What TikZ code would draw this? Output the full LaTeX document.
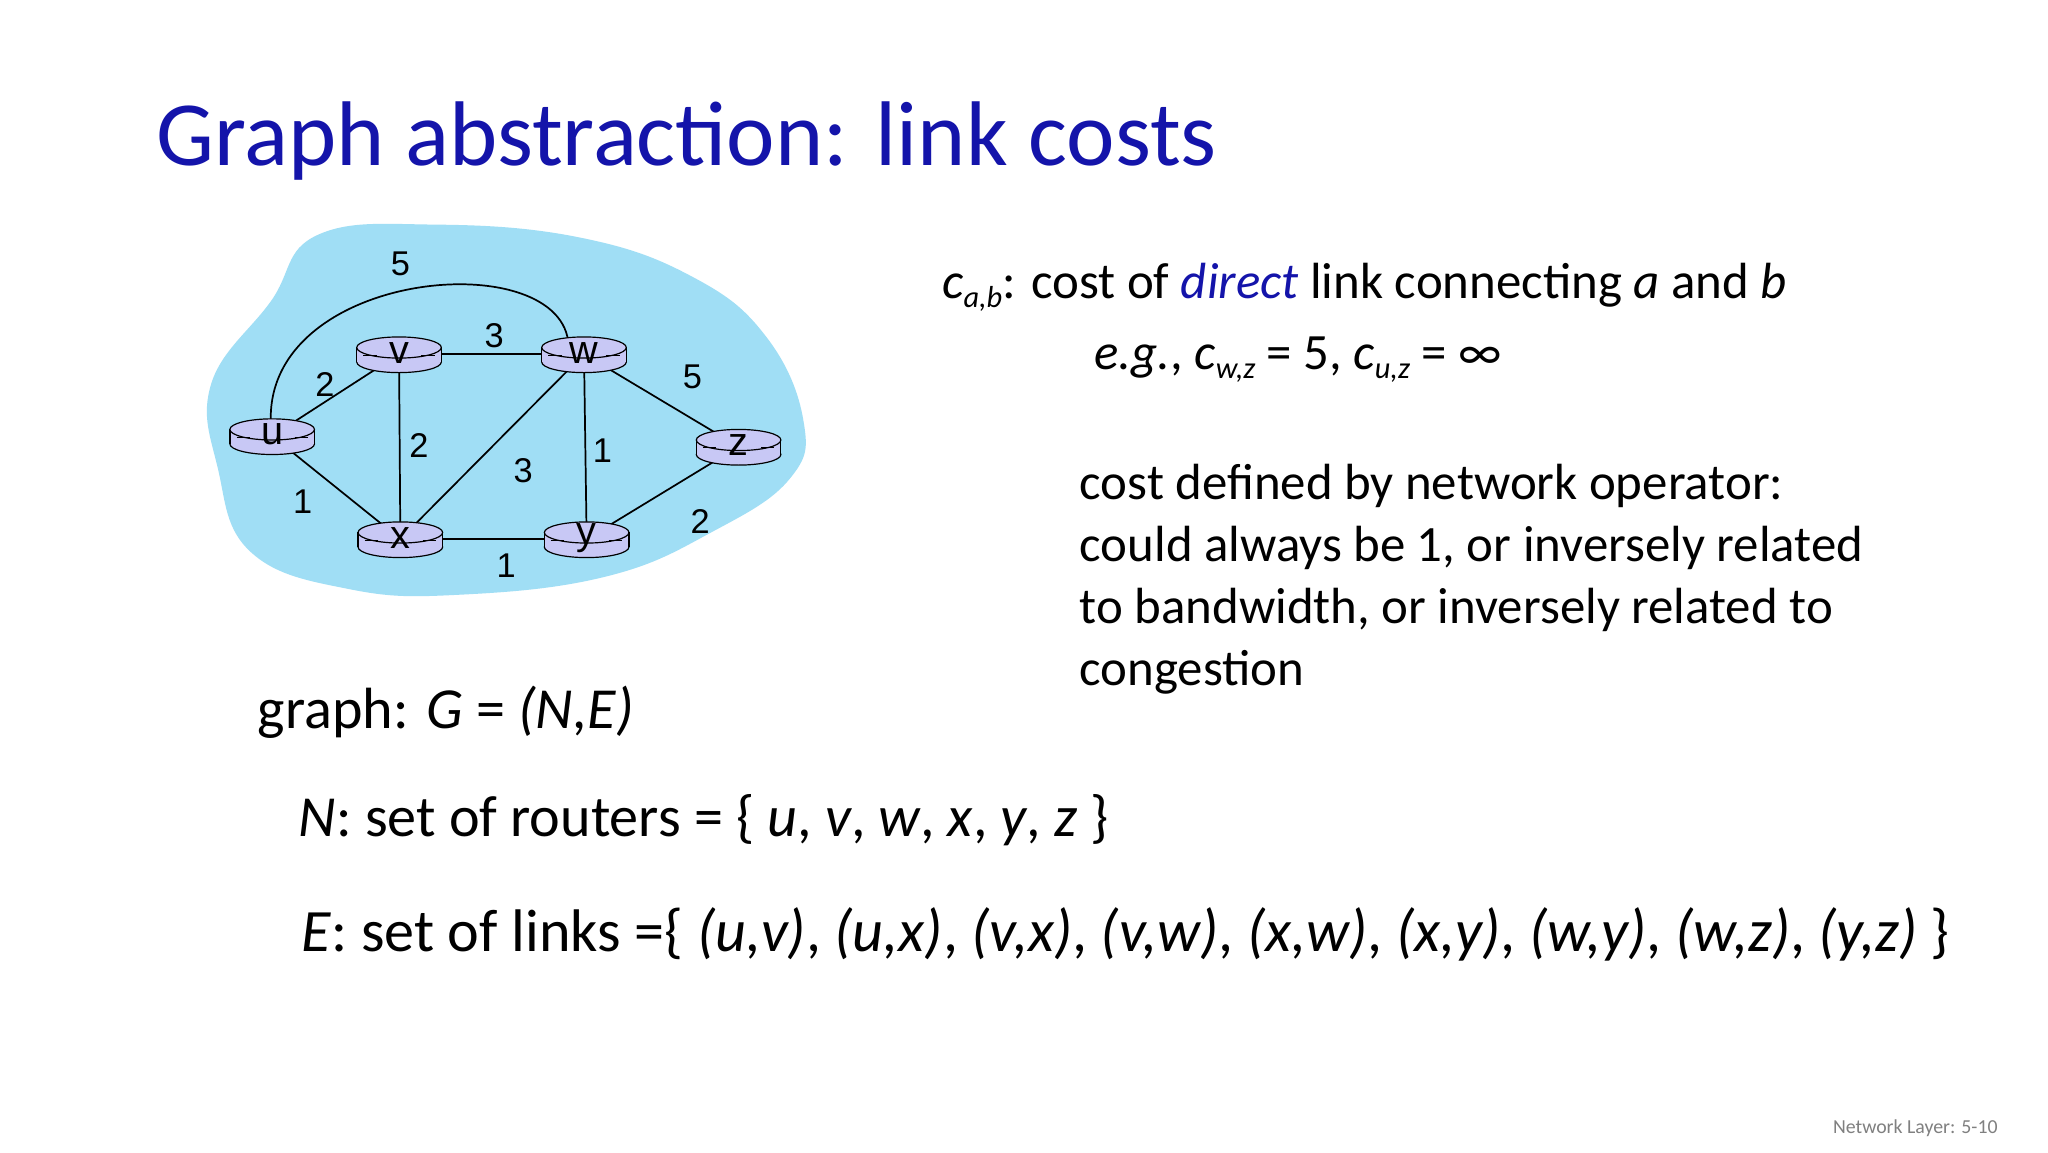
\documentclass[tikz,border=0pt]{standalone}
\usepackage{fontspec}
\setmainfont{Carlito}
\newfontfamily\arialf{Liberation Sans}
\usetikzlibrary{calc}
\definecolor{titleblue}{RGB}{20,20,170}
\definecolor{cloud}{RGB}{160,222,245}
\definecolor{router}{RGB}{200,200,245}
\newcommand{\fs}[1]{\fontsize{#1}{#1}\selectfont}
\newcommand{\sbs}[1]{\raisebox{-0.35ex}{\fontsize{23}{25}\selectfont\itshape #1}}
\begin{document}
\begin{tikzpicture}[x=1pt,y=-1pt,
  lbl/.style={font=\arialf\fontsize{26}{28}\selectfont},
  txt/.style={anchor=base west,inner sep=0pt,font=\fs{38.5}},
  lnk/.style={draw=black,line width=1.3pt}]
\useasboundingbox (0,0) rectangle (1550,872);
\fill[white] (0,0) rectangle (1550,872);
\node[anchor=base west,inner sep=0pt,text=titleblue,font=\fs{69.5}] (title) at (118,125) {Graph abstraction: link costs};
% cloud
\fill[cloud] plot[smooth cycle,tension=0.7] coordinates {(240,178) (330,170) (440,180) (525,210) (580,255) (608,318) (598,362) (540,402) (460,436) (350,450) (265,446) (190,418) (165,355) (160,290) (205,228)};
% coordinates
\foreach \n/\xx/\yy in {u/206/330,v/302/268,w/442/268,z/559/338,x/303/408,y/444/408}
  \coordinate (\n) at (\xx,\yy);
% links
\draw[lnk] (u) -- (v); \draw[lnk] (u) -- (x); \draw[lnk] (v) -- (x);
\draw[lnk] (v) -- (w); \draw[lnk] (x) -- (w); \draw[lnk] (x) -- (y);
\draw[lnk] (w) -- (y); \draw[lnk] (w) -- (z); \draw[lnk] (y) -- (z);
\draw[lnk] ($(u)+(-1,-10)$) .. controls (200,205) and (420,185) .. ($(w)+(-12,-10)$);
% routers
\foreach \n in {u,v,w,z,x,y}{
  \begin{scope}[shift={(\n)}]
  \fill[router,draw=black,line width=0.9pt] (0,6) ellipse[x radius=32,y radius=8];
  \fill[router] (-32,-5) rectangle (32,6);
  \draw[line width=0.9pt] (-32,-5) -- (-32,6) (32,-5) -- (32,6);
  \fill[router,draw=black,line width=0.9pt] (0,-5) ellipse[x radius=32,y radius=8];
  \draw[line width=0.8pt] (-27,1) -- (-17,1) (17,1) -- (27,1);
  \end{scope}
  \node[lbl,font=\arialf\fontsize{30}{30}\selectfont,inner sep=0pt] (L\n) at ($(\n)+(0,-1)$) {\n};
}
% cost labels
\node[lbl] (c1) at (303,200) {5};
\node[lbl] (c2) at (374,254) {3};
\node[lbl] (c3) at (246,291) {2};
\node[lbl] (c4) at (524,285) {5};
\node[lbl] (c5) at (317,337) {2};
\node[lbl] (c6) at (396,356) {3};
\node[lbl] (c7) at (456,341) {1};
\node[lbl] (c8) at (229,380) {1};
\node[lbl] (c9) at (383,428) {1};
\node[lbl] (c10) at (530,395) {2};
% right text
\node[txt] (t1) at (713,226) {\textit{c}\sbs{a,b}: cost of \textcolor{titleblue}{\textit{direct}} link connecting \textit{a} and \textit{b}};
\node[txt] (t2) at (828,280) {\textit{e.g.}, \textit{c}\sbs{w,z} = 5, \textit{c}\sbs{u,z} = ∞};
\node[anchor=north west,inner sep=0pt,align=left,font=\fontsize{38.5}{47}\selectfont] (t3) at (817,351) {cost defined by network operator:\\could always be 1, or inversely related\\to bandwidth, or inversely related to\\congestion};
\node[txt,font=\fs{44}] (g) at (195,551) {graph: \textit{G} = \textit{(N,E)}};
\node[txt,font=\fs{44}] (n) at (226,633) {\textit{N}: set of routers = \{ \textit{u}, \textit{v}, \textit{w}, \textit{x}, \textit{y}, \textit{z} \}};
\node[txt,font=\fs{45.5}] (e) at (228,720) {\textit{E}: set of links =\{ \textit{(u,v)}, \textit{(u,x)}, \textit{(v,x)}, \textit{(v,w)}, \textit{(x,w)}, \textit{(x,y)}, \textit{(w,y)}, \textit{(w,z)}, \textit{(y,z)} \}};
\node[anchor=base east,inner sep=0pt,text=gray,font=\fs{15}] (foot) at (1512,858) {Network Layer: 5-10};
\end{tikzpicture}
\end{document}
